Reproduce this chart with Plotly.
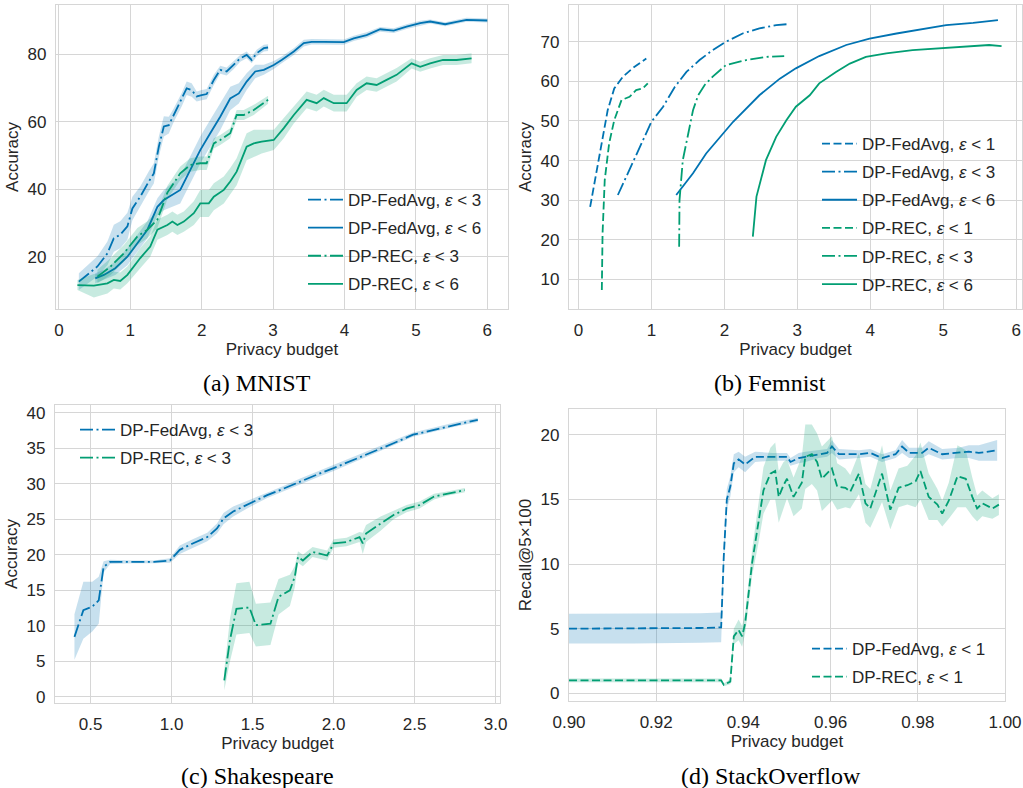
import plotly.graph_objects as go

BLUE = "#0173b2"
GREEN = "#029e73"
BLUE_F = "rgba(1,115,178,0.22)"
GREEN_F = "rgba(2,158,115,0.22)"

# ---------------- (a) MNIST ----------------
A_FA3_X = [0.28,0.54,0.68,0.77,0.86,0.96,1.03,1.14,1.26,1.33,1.40,1.47,1.54,1.61,1.72,1.79,1.86,1.93,2.00,2.07,2.17,2.26,2.35,2.45,2.54,2.63,2.70,2.77,2.87,2.93]
A_FA3_Y = [12.6,17.1,21.0,25.5,26.5,29.0,34.3,37.8,42.3,44.7,52.6,58.6,59.0,62.0,66.5,69.9,69.4,67.5,67.9,68.2,72.4,75.4,74.9,76.8,78.8,79.8,78.3,80.3,81.8,82.0]
A_FA3_E = [2.5,3,3.5,4,4,4,3.5,3,3,3,3,3,2.5,2,2,2,2,1.5,1.5,1.5,1.5,1.2,1.2,1.2,1,1,1,1,1,1]

A_FA6_X = [0.51,0.63,0.79,0.96,1.10,1.24,1.38,1.47,1.70,1.84,1.98,2.12,2.26,2.40,2.52,2.63,2.75,2.87,3.01,3.12,3.29,3.43,3.54,3.71,3.85,3.99,4.13,4.31,4.50,4.69,4.87,5.06,5.20,5.41,5.57,5.71,6.00]
A_FA6_Y = [13.6,14.6,16.6,20.0,24.0,28.0,34.8,36.8,39.8,45.7,51.6,56.6,61.5,66.9,68.4,71.9,74.9,75.4,76.8,78.3,80.8,83.3,83.7,83.7,83.7,83.6,84.7,85.7,87.4,87.0,88.2,89.2,89.7,88.9,89.6,90.2,90.0]
A_FA6_E = [1.5,1.5,2,2.5,2.5,2.5,2.5,3,4,4,4,4,4,3.5,3,2.5,2,1.5,1.2,1,1,1,0.8,0.8,0.8,0.8,0.8,0.8,0.7,0.7,0.7,0.7,0.6,0.6,0.6,0.6,0.6]

A_RE3_X = [0.54,0.72,0.91,1.10,1.24,1.38,1.52,1.59,1.70,1.84,1.98,2.07,2.17,2.26,2.40,2.49,2.59,2.73,2.93]
A_RE3_Y = [14.1,17.0,21.0,26.0,28.0,31.0,39.0,41.3,44.7,47.2,47.7,47.7,53.6,54.6,56.6,62.0,62.0,63.5,66.5]
A_RE3_E = [2,2.5,2.5,2.5,2.5,2.5,2,2,2,2,2,2,1.5,1.5,1.5,1.5,1.5,1.5,1.2]

A_RE6_X = [0.26,0.49,0.68,0.77,0.86,0.96,1.14,1.28,1.38,1.52,1.59,1.66,1.75,1.89,1.98,2.10,2.17,2.31,2.40,2.49,2.63,2.73,2.84,3.01,3.15,3.29,3.47,3.61,3.71,3.85,4.03,4.17,4.31,4.45,4.59,4.73,4.94,5.06,5.20,5.29,5.38,5.57,5.78]
A_RE6_Y = [11.6,11.4,12.1,13.1,12.8,14.6,19.6,23.0,28.0,29.4,30.4,29.4,30.4,32.9,35.8,35.8,37.8,39.8,42.3,45.2,52.6,53.6,54.1,54.6,58.1,62.0,66.5,65.5,67.0,65.5,65.5,69.4,71.4,70.9,72.4,73.9,77.3,76.3,77.3,77.8,78.3,78.3,78.8]
A_RE6_E = [1.5,3.5,3,2.5,2.5,2.5,3,3,3,3,3,3,3,3.5,4,4,4,4,4,4,4,4,3.5,3,3,2.5,2.5,2.5,2.5,2.5,2.5,2,2,2,2,2,1.5,1.5,1.5,1.5,1.5,1.5,1.5]

# ---------------- (b) Femnist ----------------
B_FA1_X = [0.16,0.24,0.31,0.40,0.49,0.61,0.74,0.93]
B_FA1_Y = [28.3,36.8,43.5,52.7,58.2,61.2,63.3,65.8]
B_FA3_X = [0.54,0.70,0.84,1.00,1.16,1.32,1.48,1.66,1.84,2.02,2.25,2.48,2.71,2.89]
B_FA3_Y = [31.3,37.6,43.5,49.8,53.6,58.6,62.4,65.4,67.9,70.0,72.1,73.4,74.2,74.5]
B_FA6_X = [1.34,1.57,1.75,2.12,2.48,2.76,2.98,3.30,3.67,3.99,4.36,4.68,5.04,5.41,5.75]
B_FA6_Y = [31.3,36.8,41.8,49.8,56.5,60.7,63.3,66.4,69.2,70.8,72.1,73.1,74.2,74.8,75.5]
B_RE1_X = [0.32,0.33,0.36,0.42,0.49,0.59,0.70,0.79,0.88,0.95]
B_RE1_Y = [7.3,21.6,35.1,44.3,50.2,55.3,56.1,57.8,58.2,59.5]
B_RE3_X = [1.38,1.385,1.43,1.50,1.57,1.64,1.73,1.84,2.02,2.30,2.57,2.82]
B_RE3_Y = [18.2,30.0,40.1,46.9,52.7,56.5,59.1,61.2,64.1,65.4,66.2,66.4]
B_RE6_X = [2.39,2.44,2.57,2.71,2.85,2.98,3.17,3.30,3.53,3.72,3.94,4.22,4.58,4.95,5.27,5.63,5.80]
B_RE6_Y = [20.8,30.9,40.1,46.0,50.2,53.6,56.5,59.5,62.4,64.5,66.2,67.1,67.9,68.3,68.7,69.2,68.9]

# ---------------- (c) Shakespeare ----------------
C_FA3_X = [0.40,0.455,0.51,0.55,0.58,0.62,0.76,0.89,0.99,1.05,1.13,1.22,1.28,1.32,1.38,1.48,1.59,1.69,1.79,1.92,2.00,2.12,2.24,2.37,2.49,2.62,2.74,2.89]
C_FA3_Y = [8.45,12.2,12.7,13.6,18.3,19.0,19.0,19.0,19.2,20.7,21.6,22.5,23.7,25.1,26.1,27.2,28.4,29.3,30.3,31.5,32.2,33.3,34.5,35.7,36.9,37.6,38.3,39.0]
C_FA3_E = [3.2,4,3.5,3.3,0.8,0.3,0.2,0.2,0.3,0.6,0.6,0.6,0.7,0.8,0.7,0.5,0.4,0.4,0.4,0.4,0.4,0.4,0.4,0.3,0.3,0.3,0.3,0.3]
C_RE3_X = [1.325,1.36,1.40,1.48,1.52,1.61,1.66,1.73,1.76,1.78,1.81,1.87,1.96,2.00,2.08,2.16,2.18,2.20,2.29,2.37,2.45,2.53,2.62,2.70,2.81]
C_RE3_Y = [2.35,8.0,12.4,12.6,10.1,10.3,14.1,15.0,16.9,19.7,19.2,20.4,19.9,21.6,21.8,22.5,21.6,23.0,24.4,25.6,26.5,27.0,28.2,28.6,29.1]
C_RE3_E = [1.4,3,3.6,3.6,3,3,2.5,2.2,1.5,0.8,0.8,0.7,0.7,0.6,0.6,0.7,1.5,1.2,1,0.6,0.5,0.5,0.4,0.3,0.3]

# ---------------- (d) StackOverflow ----------------
D_FA_X = [0.900,0.915,0.930,0.9349,0.9355,0.9362,0.9370,0.9378,0.9389,0.9404,0.9427,0.9466,0.9500,0.9508,0.9527,0.9542,0.9573,0.9592,0.9603,0.9619,0.9665,0.9691,0.9718,0.9749,0.9764,0.9780,0.9810,0.9825,0.9856,0.9894,0.9917,0.9940,0.9982]
D_FA_Y = [5.0,5.0,5.05,5.1,10.6,15.0,16.0,17.8,18.1,17.7,18.3,18.3,18.3,17.9,18.2,18.3,18.5,18.6,19.1,18.5,18.5,18.6,18.2,18.5,19.1,18.6,18.6,19.0,18.5,18.6,18.7,18.6,18.8]
D_FA_E = [1.15,1.15,1.15,1.15,0.8,0.8,0.8,0.7,0.6,0.6,0.4,0.3,0.3,0.3,0.4,0.4,0.3,0.3,0.5,0.4,0.3,0.3,0.3,0.3,0.5,0.4,0.4,0.5,0.4,0.4,0.5,0.6,0.8]
D_RE_X = [0.900,0.915,0.930,0.9349,0.9355,0.9370,0.9378,0.9389,0.9397,0.9404,0.9420,0.9435,0.9446,0.9462,0.9473,0.9481,0.9492,0.9500,0.9515,0.9534,0.9542,0.9557,0.9569,0.9580,0.9603,0.9615,0.9634,0.9645,0.9665,0.9680,0.9691,0.9718,0.9737,0.9756,0.9776,0.9795,0.9806,0.9825,0.9845,0.9856,0.9871,0.9891,0.9910,0.9925,0.9936,0.9948,0.9971,0.9986]
D_RE_Y = [1.0,1.0,1.0,1.0,0.65,0.9,4.4,4.9,4.4,5.4,10.1,13.2,15.7,17.0,17.2,15.2,16.1,16.6,15.2,16.3,18.3,18.5,17.9,16.6,17.4,16.0,15.9,15.6,17.0,14.7,14.3,17.0,14.2,15.9,16.1,16.4,17.2,15.2,14.6,13.9,14.9,16.8,16.6,15.2,14.3,14.7,14.3,14.6]
D_RE_E = [0.15,0.15,0.15,0.15,0.1,0.2,0.6,0.8,0.8,0.8,1.0,1.5,1.8,2.0,2.2,2.0,1.8,1.5,1.5,2.0,2.5,2.3,2.2,2.5,2.5,1.8,1.5,1.3,1.6,1.5,1.5,2.2,1.5,1.5,1.5,2.0,2.2,1.8,1.2,1.0,1.4,2.4,2.2,1.5,1.0,1.0,0.8,0.8]

CAPTIONS = ["(a) MNIST", "(b) Femnist", "(c) Shakespeare", "(d) StackOverflow"]

DASH = "8px,3.5px"
DASHDOT = "13px,3.5px,2px,3.5px"
SOLID = "solid"
LW = 1.8

fig = go.Figure()


def add_series(x, y, err, name, color, fill, dash, sub, legend):
    xa = "x" if sub == 1 else f"x{sub}"
    ya = "y" if sub == 1 else f"y{sub}"
    grp = f"{legend}-{name}"
    if err is not None:
        up = [a + b for a, b in zip(y, err)]
        lo = [a - b for a, b in zip(y, err)]
        fig.add_trace(go.Scatter(
            x=list(x) + list(x)[::-1], y=up + lo[::-1], fill="toself",
            fillcolor=fill, line=dict(width=0, color=fill), mode="lines",
            hoverinfo="skip", showlegend=False, xaxis=xa, yaxis=ya,
            legend=legend, legendgroup=grp))
    fig.add_trace(go.Scatter(
        x=x, y=y, mode="lines", name=name,
        line=dict(color=color, width=LW, dash=dash),
        xaxis=xa, yaxis=ya, legend=legend, legendgroup=grp))


def lab(method, eps):
    return f"{method}, <i>ε</i> &lt; {eps}"

# (a)
add_series(A_FA3_X, A_FA3_Y, A_FA3_E, lab("DP-FedAvg", 3), BLUE, BLUE_F, DASHDOT, 1, "legend")
add_series(A_FA6_X, A_FA6_Y, A_FA6_E, lab("DP-FedAvg", 6), BLUE, BLUE_F, SOLID, 1, "legend")
add_series(A_RE3_X, A_RE3_Y, A_RE3_E, lab("DP-REC", 3), GREEN, GREEN_F, DASHDOT, 1, "legend")
add_series(A_RE6_X, A_RE6_Y, A_RE6_E, lab("DP-REC", 6), GREEN, GREEN_F, SOLID, 1, "legend")
# (b)
add_series(B_FA1_X, B_FA1_Y, None, lab("DP-FedAvg", 1), BLUE, BLUE_F, DASH, 2, "legend2")
add_series(B_FA3_X, B_FA3_Y, None, lab("DP-FedAvg", 3), BLUE, BLUE_F, DASHDOT, 2, "legend2")
add_series(B_FA6_X, B_FA6_Y, None, lab("DP-FedAvg", 6), BLUE, BLUE_F, SOLID, 2, "legend2")
add_series(B_RE1_X, B_RE1_Y, None, lab("DP-REC", 1), GREEN, GREEN_F, DASH, 2, "legend2")
add_series(B_RE3_X, B_RE3_Y, None, lab("DP-REC", 3), GREEN, GREEN_F, DASHDOT, 2, "legend2")
add_series(B_RE6_X, B_RE6_Y, None, lab("DP-REC", 6), GREEN, GREEN_F, SOLID, 2, "legend2")
# (c)
add_series(C_FA3_X, C_FA3_Y, C_FA3_E, lab("DP-FedAvg", 3), BLUE, BLUE_F, DASHDOT, 3, "legend3")
add_series(C_RE3_X, C_RE3_Y, C_RE3_E, lab("DP-REC", 3), GREEN, GREEN_F, DASHDOT, 3, "legend3")
# (d)
add_series(D_FA_X, D_FA_Y, D_FA_E, lab("DP-FedAvg", 1), BLUE, BLUE_F, DASH, 4, "legend4")
add_series(D_RE_X, D_RE_Y, D_RE_E, lab("DP-REC", 1), GREEN, GREEN_F, DASH, 4, "legend4")

FONT = "Liberation Sans, Arial, sans-serif"
TXT = "#262626"
GRID = "#d6d6d6"
FS = 17

W, H = 1023, 788


def px_x(p):
    return p / W


def px_y(p):
    return 1 - p / H


def axis(domain, rng, title, tickvals, fmt=None, standoff=4):
    d = dict(domain=domain, range=rng, showgrid=True, gridcolor=GRID, gridwidth=1.2,
             showline=True, mirror=True, linecolor=GRID, linewidth=1.2, zeroline=False,
             ticks="outside", ticklen=5, tickcolor="rgba(0,0,0,0)",
             tickvals=tickvals, tickfont=dict(family=FONT, size=FS, color=TXT),
             title=dict(text=title, font=dict(family=FONT, size=FS, color=TXT), standoff=standoff),
             automargin=False)
    if fmt:
        d["tickformat"] = fmt
    return d

layout = dict(
    width=W, height=H, margin=dict(l=0, r=0, t=0, b=0),
    paper_bgcolor="white", plot_bgcolor="white", hovermode=False,
    font=dict(family=FONT, color=TXT),
)
layout["xaxis"] = axis([px_x(56), px_x(508)], [-0.04, 6.29], "Privacy budget", [0, 1, 2, 3, 4, 5, 6])
layout["yaxis"] = axis([px_y(309), px_y(5)], [4.5, 94.6], "Accuracy", [20, 40, 60, 80])
layout["xaxis2"] = axis([px_x(569), px_x(1022)], [-0.13, 6.08], "Privacy budget", [0, 1, 2, 3, 4, 5, 6])
layout["yaxis2"] = axis([px_y(309), px_y(5)], [2.5, 79.3], "Accuracy", [10, 20, 30, 40, 50, 60, 70])
layout["xaxis3"] = axis([px_x(55), px_x(500)], [0.28, 3.027], "Privacy budget", [0.5, 1.0, 1.5, 2.0, 2.5, 3.0], ".1f")
layout["yaxis3"] = axis([px_y(703), px_y(405)], [-0.85, 41.08], "Accuracy", [0, 5, 10, 15, 20, 25, 30, 35, 40])
layout["xaxis4"] = axis([px_x(569), px_x(1005)], [0.90, 1.00], "Privacy budget", [0.90, 0.92, 0.94, 0.96, 0.98, 1.00], ".2f")
layout["yaxis4"] = axis([px_y(701), px_y(409)], [-0.6, 22.0], "Recall@5×100", [0, 5, 10, 15, 20])
for i, k in enumerate(["xaxis", "xaxis2", "xaxis3", "xaxis4"]):
    layout[k]["anchor"] = "y" if i == 0 else f"y{i+1}"
for i, k in enumerate(["yaxis", "yaxis2", "yaxis3", "yaxis4"]):
    layout[k]["anchor"] = "x" if i == 0 else f"x{i+1}"


def leg(xp, yp):
    return dict(x=px_x(xp), y=px_y(yp), xanchor="left", yanchor="top",
                bgcolor="rgba(0,0,0,0)", borderwidth=0, tracegroupgap=3,
                font=dict(family=FONT, size=FS, color=TXT), itemwidth=35)

layout["legend"] = leg(303, 182)
layout["legend2"] = leg(817, 126)
layout["legend3"] = leg(75, 412)
layout["legend4"] = leg(807, 631)

fig.update_layout(**layout)

cap_pos = [(257, 383), (770, 383), (257, 776), (771, 776)]
for text, (cx, cy) in zip(CAPTIONS, cap_pos):
    fig.add_annotation(text=text, x=px_x(cx), y=px_y(cy), xref="paper", yref="paper",
                       xanchor="center", yanchor="middle", showarrow=False,
                       font=dict(family="Liberation Serif, Times New Roman, serif", size=24, color="#000000"))

fig.write_html("out.html", config={"displayModeBar": False},
               post_script="document.body.style.margin='0px';")
